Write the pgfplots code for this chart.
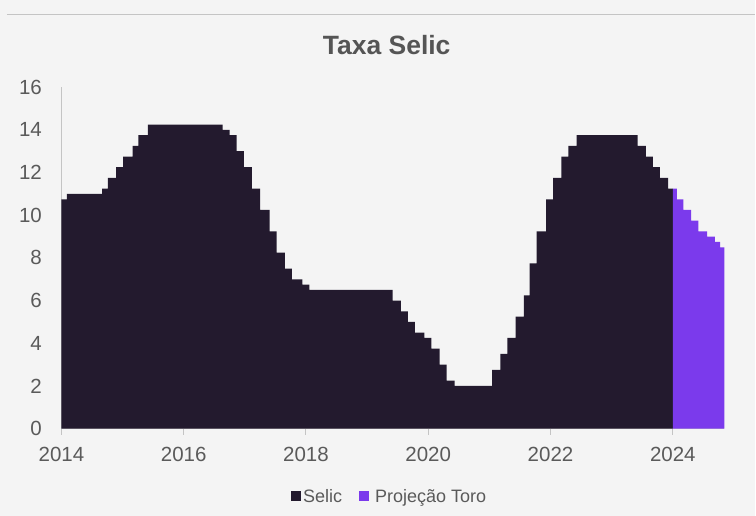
\documentclass[border=0pt]{standalone}
\usepackage{pgfplots}
\pgfplotsset{compat=1.18}
\usepackage{fontspec}
\setmainfont{Liberation Sans}
\definecolor{bg}{HTML}{F4F4F4}
\definecolor{selic}{HTML}{231A2E}
\definecolor{toro}{HTML}{7B3AEC}
\definecolor{axgray}{HTML}{C4C4C4}
\definecolor{txtgray}{HTML}{5A5A5A}
\definecolor{titlegray}{HTML}{555555}
\begin{document}
\begin{tikzpicture}[x=1bp,y=1bp]
\fill[bg] (0,0) rectangle (756,516);
\draw[axgray, line width=1.2bp] (7,501.3) -- (756,501.3);
\node[anchor=base, text=titlegray, font=\fontsize{26.5bp}{30bp}\selectfont\bfseries, inner sep=0pt] at (387,461) {Taxa Selic};
\begin{axis}[
  at={(61.5bp,87bp)}, anchor=south west,
  scale only axis, width=663.5bp, height=341.7bp,
  xmin=2014, xmax=2024.845, ymin=0, ymax=16,
  axis x line*=bottom, axis y line*=left,
  axis line style={draw=axgray, line width=1.1bp},
  xtick={2014,2016,2018,2020,2022,2024},
  ytick={0,2,4,6,8,10,12,14,16},
  ytick style={draw=none},
  xtick style={draw=axgray, line width=1bp},
  tick align=outside, major tick length=6bp,
  /pgf/number format/assume math mode=true,
  /pgf/number format/1000 sep={},
  tick label style={font=\fontsize{20.5bp}{24bp}\selectfont, text=txtgray, inner sep=0pt},
  xticklabel style={anchor=base, yshift=-26.6bp},
  yticklabel style={anchor=east, xshift=-13.5bp},
  legend style={at={(0.4951,-0.198)}, anchor=center, draw=none, fill=none,
    font=\fontsize{18bp}{21bp}\selectfont, text=txtgray,
    /tikz/every even column/.append style={column sep=15bp}},
  legend columns=2,
  legend image code/.code={\fill[#1] (0bp,-4.8bp) rectangle (10bp,4.8bp);},
]
\addplot[const plot, fill=selic, draw=none] coordinates {
(2014.000,10.75) (2014.089,11.00) (2014.664,11.25) (2014.760,11.75)
(2014.895,12.25) (2015.010,12.75) (2015.163,13.25) (2015.259,13.75)
(2015.412,14.25) (2016.637,14.00) (2016.752,13.75) (2016.867,13.00)
(2016.982,12.25) (2017.116,11.25) (2017.251,10.25) (2017.404,9.25)
(2017.519,8.25) (2017.653,7.50) (2017.769,7.00) (2017.941,6.75)
(2018.056,6.50) (2019.418,6.00) (2019.552,5.50) (2019.667,5.00)
(2019.782,4.50) (2019.935,4.25) (2020.050,3.75) (2020.184,3.00)
(2020.299,2.25) (2020.433,2.00) (2021.045,2.75) (2021.179,3.50)
(2021.295,4.25) (2021.429,5.25) (2021.563,6.25) (2021.659,7.75)
(2021.774,9.25) (2021.927,10.75) (2022.042,11.75) (2022.177,12.75)
(2022.292,13.25) (2022.426,13.75) (2023.423,13.25) (2023.558,12.75)
(2023.673,12.25) (2023.788,11.75) (2023.922,11.25) (2024.000,11.25)
} \closedcycle;
\addlegendentry{Selic}
\addplot[const plot, fill=toro, draw=none] coordinates {
(2024.000,11.25) (2024.065,10.75) (2024.175,10.25) (2024.301,9.75)
(2024.420,9.25) (2024.562,9.00) (2024.687,8.75) (2024.775,8.50)
(2024.845,8.50)
} \closedcycle;
\addlegendentry{\hspace{4bp}Projeção Toro}
\end{axis}
\end{tikzpicture}
\end{document}
